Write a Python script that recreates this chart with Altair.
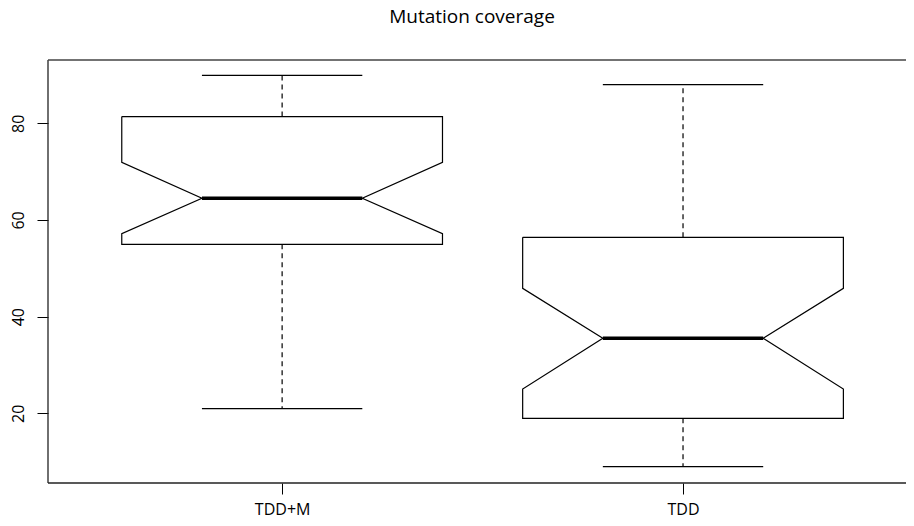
import altair as alt
import pandas as pd

# ---- data (notched boxplot summary) ----
title_text = ["Mutation coverage"]
groups = ["TDD+M", "TDD"]
whisker_low = [20.95, 8.95]
q1 = [54.97, 18.96]
notch_low = [57.16, 25.03]
median = [64.5, 35.51]
notch_high = [71.93, 45.86]
q3 = [81.4, 56.41]
whisker_high = [89.93, 87.99]
y_ticks = [20, 40, 60, 80]

# ---- style ----
BOX_HALF = 0.4
NOTCH_HALF = 0.2
CAP_HALF = 0.2
FONT = "Open Sans"
W, H = 858, 423

poly_rows = []
stat_rows = []
for i, g in enumerate(groups):
    c = i + 1
    pts = [
        (c - BOX_HALF, q3[i]), (c + BOX_HALF, q3[i]),
        (c + BOX_HALF, notch_high[i]), (c + NOTCH_HALF, median[i]),
        (c + BOX_HALF, notch_low[i]), (c + BOX_HALF, q1[i]),
        (c - BOX_HALF, q1[i]), (c - BOX_HALF, notch_low[i]),
        (c - NOTCH_HALF, median[i]), (c - BOX_HALF, notch_high[i]),
        (c - BOX_HALF, q3[i]),
    ]
    for k, (x, y) in enumerate(pts):
        poly_rows.append({"group": g, "order": k, "x": x, "y": y})
    stat_rows.append({
        "group": g, "pos": c, "lo": c - CAP_HALF, "hi": c + CAP_HALF,
        "wl": whisker_low[i], "q1": q1[i], "med": median[i],
        "q3": q3[i], "wh": whisker_high[i],
    })

poly = pd.DataFrame(poly_rows)
stats = pd.DataFrame(stat_rows)

label_expr = " : ".join(
    [f"datum.value == {i + 1} ? '{g}'" for i, g in enumerate(groups)]
) + " : ''"

xscale = alt.Scale(domain=[0.416, 0.416 + W / 400.9], nice=False, zero=False)
yscale = alt.Scale(domain=[5.58, 93.1], nice=False, zero=False)

xaxis = alt.Axis(values=[1, 2], labelExpr=label_expr, title=None, grid=False,
                 domain=False, tickColor="black", tickSize=11, labelPadding=7,
                 labelFont=FONT, labelFontSize=16, labelColor="black")
yaxis = alt.Axis(values=y_ticks, title=None, grid=False, domain=False,
                 tickColor="black", tickSize=11, labelAngle=270,
                 labelAlign="center", labelBaseline="bottom", labelPadding=11,
                 labelFont=FONT, labelFontSize=16, labelColor="black")

box = alt.Chart(poly).mark_line(color="black", strokeWidth=1.2).encode(
    x=alt.X("x:Q", scale=xscale, axis=xaxis),
    y=alt.Y("y:Q", scale=yscale, axis=yaxis),
    detail="group:N",
    order="order:Q",
)

base = alt.Chart(stats)
whisk_up = base.mark_rule(color="black", strokeWidth=1.2, strokeDash=[5, 4]).encode(
    x=alt.X("pos:Q", scale=xscale), y=alt.Y("q3:Q", scale=yscale), y2="wh:Q")
whisk_dn = base.mark_rule(color="black", strokeWidth=1.2, strokeDash=[5, 4]).encode(
    x=alt.X("pos:Q", scale=xscale), y=alt.Y("q1:Q", scale=yscale), y2="wl:Q")
cap_up = base.mark_rule(color="black", strokeWidth=1.2).encode(
    x=alt.X("lo:Q", scale=xscale), x2="hi:Q", y=alt.Y("wh:Q", scale=yscale))
cap_dn = base.mark_rule(color="black", strokeWidth=1.2).encode(
    x=alt.X("lo:Q", scale=xscale), x2="hi:Q", y=alt.Y("wl:Q", scale=yscale))
med = base.mark_rule(color="black", strokeWidth=3.5).encode(
    x=alt.X("lo:Q", scale=xscale), x2="hi:Q", y=alt.Y("med:Q", scale=yscale))

# plot frame (right edge falls outside the window in the reference)
frame_df = pd.DataFrame({"k": [0]})
frame_left = alt.Chart(frame_df).mark_rule(color="#222", strokeWidth=1.3).encode(
    x=alt.value(0), y=alt.value(0), y2=alt.value(H))
frame_top = alt.Chart(frame_df).mark_rule(color="#444", strokeWidth=1.3).encode(
    x=alt.value(0), x2=alt.value(W + 2), y=alt.value(0))
frame_bot = alt.Chart(frame_df).mark_rule(color="#222", strokeWidth=1.3).encode(
    x=alt.value(0), x2=alt.value(W + 2), y=alt.value(H))

title = alt.Chart(pd.DataFrame({"t": title_text})).mark_text(
    font=FONT, fontSize=19, color="black", align="center", baseline="alphabetic"
).encode(text="t:N", x=alt.value(424), y=alt.value(-37))

chart = alt.layer(
    box, whisk_up, whisk_dn, cap_up, cap_dn, med,
    frame_left, frame_top, frame_bot, title,
).properties(
    width=W,
    height=H,
    autosize=alt.AutoSizeParams(type="none"),
    padding={"left": 40, "top": 52, "right": 0, "bottom": 35},
).configure(background="white").configure_view(stroke=None)

chart.save("out.html", embed_options={"renderer": "svg", "actions": False})
